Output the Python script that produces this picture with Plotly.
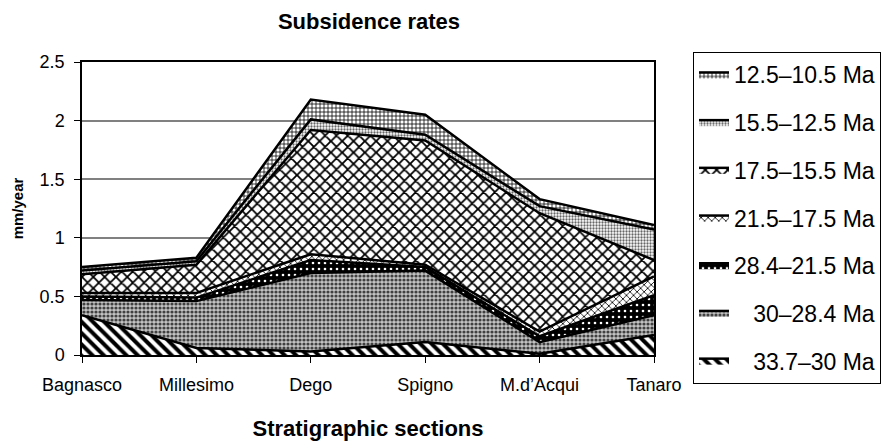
import plotly.graph_objects as go

sections = ["Bagnasco", "Millesimo", "Dego", "Spigno", "M.d\u2019Acqui", "Tanaro"]

ma_33_7_30 = [0.34, 0.06, 0.03, 0.11, 0.01, 0.17]
ma_30_28_4 = [0.13, 0.40, 0.67, 0.61, 0.10, 0.17]
ma_28_4_21_5 = [0.03, 0.03, 0.11, 0.03, 0.05, 0.17]
ma_21_5_17_5 = [0.03, 0.04, 0.05, 0.02, 0.04, 0.16]
ma_17_5_15_5 = [0.16, 0.24, 1.06, 1.06, 1.01, 0.14]
ma_15_5_12_5 = [0.03, 0.03, 0.09, 0.05, 0.06, 0.26]
ma_12_5_10_5 = [0.03, 0.03, 0.17, 0.17, 0.06, 0.04]

pad = "\u00a0\u00a0\u00a0"
series = [
    (pad + "33.7\u201330 Ma", ma_33_7_30, dict(shape="\\", fgcolor="black", bgcolor="white", size=8, solidity=0.5)),
    (pad + "30\u201328.4 Ma", ma_30_28_4, dict(shape=".", fgcolor="#404040", bgcolor="#c4c4c4", size=4, solidity=0.5)),
    ("28.4\u201321.5 Ma", ma_28_4_21_5, dict(shape=".", fgcolor="white", bgcolor="black", size=6, solidity=0.15)),
    ("21.5\u201317.5 Ma", ma_21_5_17_5, dict(shape="x", fgcolor="black", bgcolor="white", size=5, solidity=0.3)),
    ("17.5\u201315.5 Ma", ma_17_5_15_5, dict(shape="x", fgcolor="black", bgcolor="white", size=8, solidity=0.4)),
    ("15.5\u201312.5 Ma", ma_15_5_12_5, dict(shape=".", fgcolor="#666", bgcolor="white", size=3, solidity=0.45)),
    ("12.5\u201310.5 Ma", ma_12_5_10_5, dict(shape="+", fgcolor="black", bgcolor="white", size=4, solidity=0.35)),
]

fig = go.Figure()
for i, (name, vals, pat) in enumerate(series):
    fig.add_trace(go.Scatter(
        x=sections, y=vals, name=name, mode="lines",
        stackgroup="one", legendgroup=str(i), legendrank=100 - 10 * i,
        line=dict(color="black", width=2.5),
        fillpattern=dict(fillmode="replace", **pat),
    ))

fig.update_layout(
    width=889, height=441,
    margin=dict(l=82, r=235, t=62, b=86, autoexpand=False),
    paper_bgcolor="white", plot_bgcolor="white",
    font=dict(family="Liberation Sans, Arial, sans-serif", color="black", size=18),
    title=dict(text="<b>Subsidence rates</b>", x=369 / 889, xanchor="center",
               y=1 - 21 / 441, yanchor="middle", font=dict(size=22)),
    showlegend=True,
    legend=dict(
        x=(693 - 82) / 572, xanchor="left", y=(355 - 52) / 293, yanchor="top",
        traceorder="grouped", tracegroupgap=14.8, maxheight=400,
        bordercolor="black", borderwidth=1, bgcolor="white",
        font=dict(size=23), itemwidth=30,
    ),
)
fig.update_xaxes(
    range=[0, 5], showline=True, linecolor="black", linewidth=1.5, mirror=True,
    ticks="outside", ticklen=6, tickcolor="black", showgrid=False, ticklabelstandoff=7,
    automargin=False,
    title=dict(text="<b>Stratigraphic sections</b>", font=dict(size=22), standoff=30),
)
fig.update_yaxes(
    range=[0, 2.5], dtick=0.5, showline=True, linecolor="black", linewidth=1.5, mirror=True,
    ticks="outside", ticklen=6, tickcolor="black", showgrid=True, gridcolor="#808080", gridwidth=1.5,
    ticklabelstandoff=6, automargin=False,
    title=dict(text="<b>mm/year</b>", font=dict(size=15), standoff=12),
    zeroline=False,
)
fig.write_html("out.html")
